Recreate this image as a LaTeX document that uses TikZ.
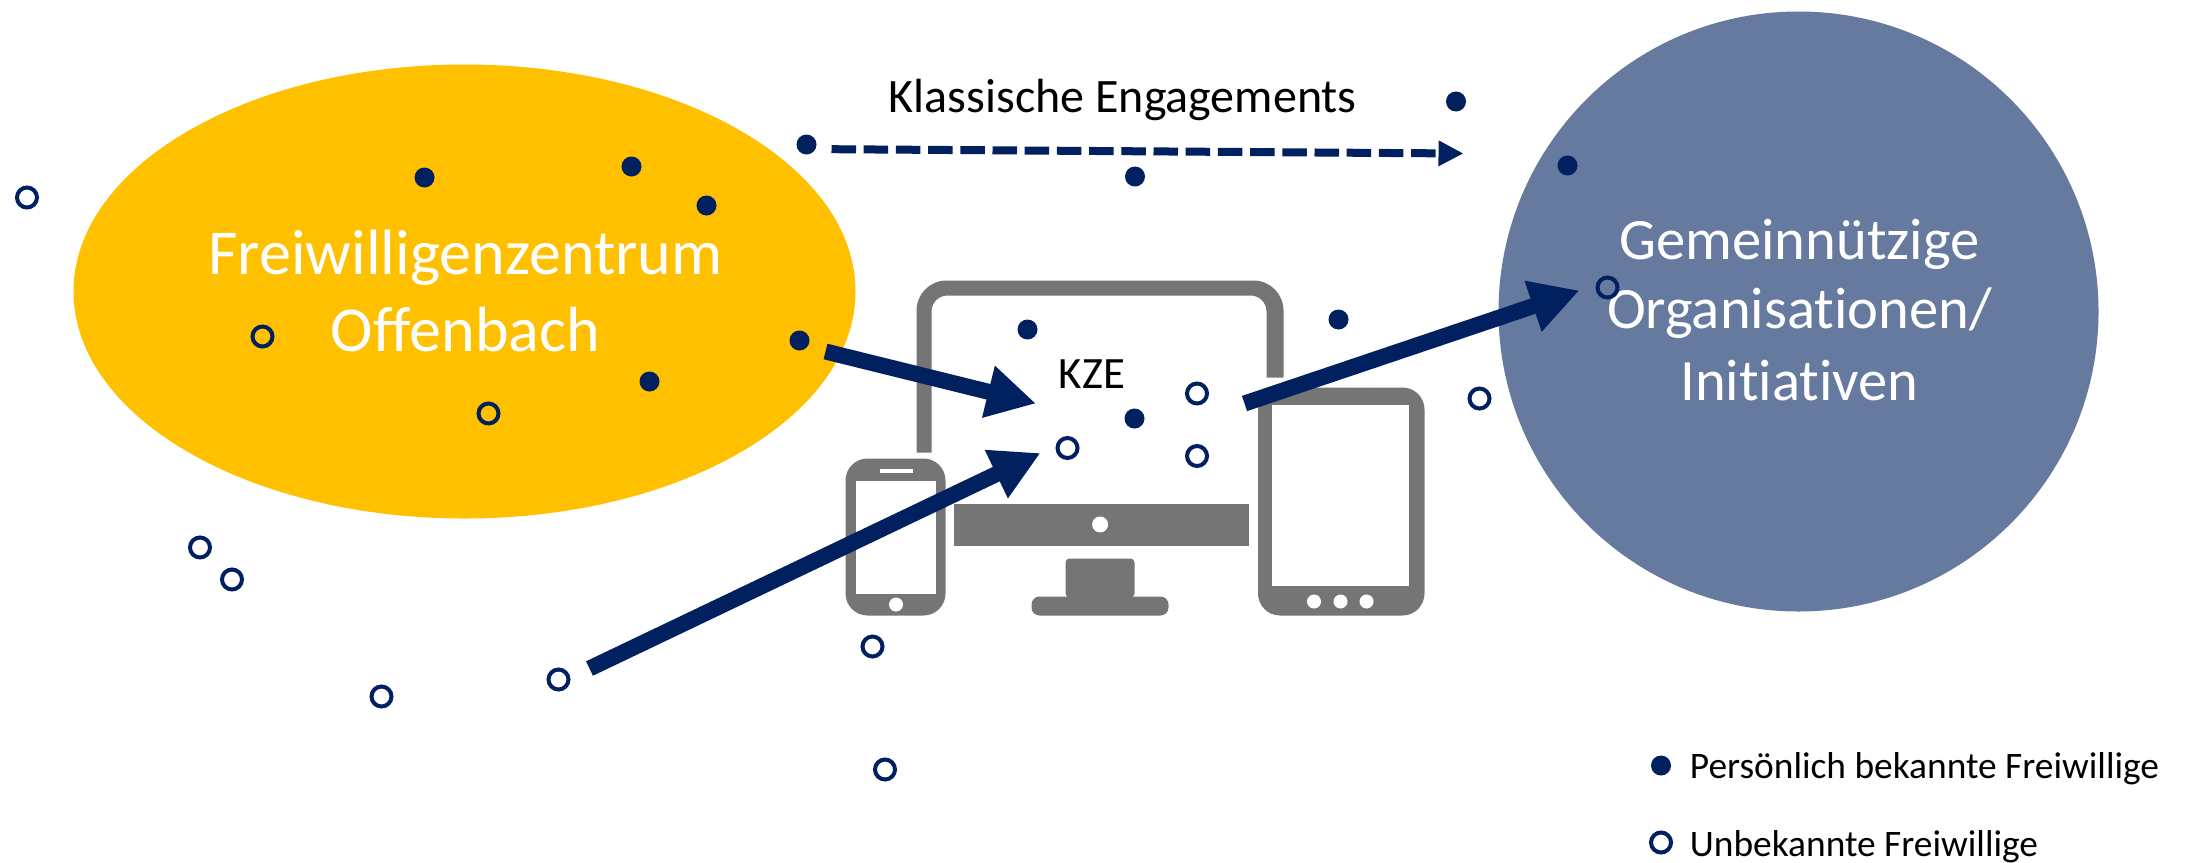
\documentclass[tikz,border=0pt]{standalone}
\usepackage{fontspec}
\setmainfont[Ligatures=NoCommon]{Carlito}
\usetikzlibrary{arrows.meta,shapes.geometric}
\definecolor{navy}{HTML}{002060}
\definecolor{sun}{HTML}{FFC000}
\definecolor{slate}{HTML}{667AA0}
\definecolor{devgray}{HTML}{757575}
\tikzset{
  known/.style={circle,fill=navy,inner sep=0pt,outer sep=0pt,minimum size=10pt},
  unknown/.style={circle,draw=navy,line width=2pt,inner sep=0pt,outer sep=0pt,minimum size=10pt},
  flow/.style={navy,line width=8pt,-{Triangle[length=24.5pt,width=25pt]}},
  classic/.style={navy,line width=4pt,dash pattern=on 12.25pt off 3.85pt,-{Triangle[length=12.5pt,width=12pt]}},
  device/.style={fill=devgray,draw=none},
  hole/.style={fill=white,draw=none},
  white label/.style={text=white,anchor=base,inner sep=0pt},
  big label/.style={white label,font=\fontsize{32}{32}\selectfont},
  org label/.style={white label,font=\fontsize{29.3}{29.3}\selectfont},
  black label/.style={text=black,anchor=base west,inner sep=0pt},
}
\begin{document}
\begin{tikzpicture}[x=0.5pt,y=-0.5pt]
\useasboundingbox (-0.5,-0.5) rectangle (2187.5,861.5);
% big shapes
\node[ellipse,fill=sun,inner sep=0pt,outer sep=0pt,minimum width=391pt,minimum height=227pt] (zentrum) at (464,291) {};
\node[circle,fill=slate,inner sep=0pt,outer sep=0pt,minimum size=300pt] (orgs) at (1798,311) {};
\node[big label] (t1) at (465,274) {Freiwilligenzentrum};
\node[big label] (t2) at (465,351) {Offenbach};
\node[org label] (t3) at (1799,259) {Gemeinnützige};
\node[org label] (t4) at (1799,328) {Organisationen/};
\node[org label] (t5) at (1799,400) {Initiativen};
% monitor
\fill[device] (916,452) -- (916,380) [rounded corners=15pt] -- (916,280) -- (1283,280) -- (1283,340) [sharp corners] -- (1283,377) -- (1266,377) -- (1266,340) [rounded corners=8pt] -- (1266,295) -- (931,295) -- (931,340) [sharp corners] -- (931,452) -- cycle;
\fill[device] (953.5,503) rectangle (1248.5,545);
\fill[hole] (1099.6,524) circle (4pt);
\fill[device,rounded corners=2pt] (1065,597) -- (1065,558) -- (1134,558) -- (1134,597) -- cycle;
\fill[device,rounded corners=4pt] (1031,596) rectangle (1168,615);
% phone
\fill[device,rounded corners=11pt] (845,458) rectangle (945,615);
\fill[hole] (855.5,480) rectangle (935.5,593);
\fill[hole] (879,468) rectangle (912,472);
\fill[hole] (895.5,604) circle (3.5pt);
% tablet
\fill[device,rounded corners=11pt] (1257.5,387) rectangle (1424,615);
\fill[hole] (1271,404) rectangle (1408.5,585);
\fill[hole] (1313.5,601) circle (3.5pt);
\fill[hole] (1340,601) circle (3.5pt);
\fill[hole] (1366,601) circle (3.5pt);
% labels
\node[black label,font=\fontsize{24}{24}\selectfont] (klass) at (888,112) {Klassische Engagements};
\node[black label,font=\fontsize{22.4}{22.4}\selectfont] (kze) at (1058,388) {KZE};
\node[black label,font=\fontsize{18.7}{18.7}\selectfont] (leg1) at (1689,777.5) {Persönlich bekannte Freiwillige};
\node[black label,font=\fontsize{18.7}{18.7}\selectfont] (leg2) at (1689,855.5) {Unbekannte Freiwillige};
% known volunteers
\node[known] (k1) at (424,177) {};
\node[known] (k2) at (631,166) {};
\node[known] (k3) at (706,205) {};
\node[known] (k4) at (799,340) {};
\node[known] (k5) at (649,381) {};
\node[known] (k6) at (806,144) {};
\node[known] (k7) at (1134.5,176) {};
\node[known] (k8) at (1455.5,101) {};
\node[known] (k9) at (1567,165) {};
\node[known] (k10) at (1027,329) {};
\node[known] (k11) at (1134,418) {};
\node[known] (k12) at (1338,319) {};
\node[known] (k13) at (1660.5,765) {};
% unknown volunteers
\node[unknown] (u1) at (26.5,197) {};
\node[unknown] (u2) at (262,336) {};
\node[unknown] (u3) at (488,413) {};
\node[unknown] (u4) at (199.5,547) {};
\node[unknown] (u5) at (231.5,579) {};
\node[unknown] (u6) at (381,696) {};
\node[unknown] (u7) at (558,679) {};
\node[unknown] (u8) at (872,646) {};
\node[unknown] (u9) at (884.5,769) {};
\node[unknown] (u10) at (1067,447.5) {};
\node[unknown] (u11) at (1196.5,393) {};
\node[unknown] (u12) at (1196.5,455.5) {};
\node[unknown] (u13) at (1479,398) {};
\node[unknown] (u14) at (1607,287) {};
\node[unknown] (u15) at (1660.5,842) {};
% arrow ends
\coordinate (c1a) at (825,351);
\coordinate (c1b) at (1035.5,403);
\coordinate (c2a) at (589,668);
\coordinate (c2b) at (1040,452.5);
\coordinate (c3a) at (1244,403);
\coordinate (c3b) at (1579,290);
\coordinate (c4a) at (831,148.7);
\coordinate (c4b) at (1463,153);
\draw[flow] (c1a) -- (c1b);
\draw[flow] (c2a) -- (c2b);
\draw[flow] (c3a) -- (c3b);
\draw[classic] (c4a) -- (c4b);
\end{tikzpicture}
\end{document}
